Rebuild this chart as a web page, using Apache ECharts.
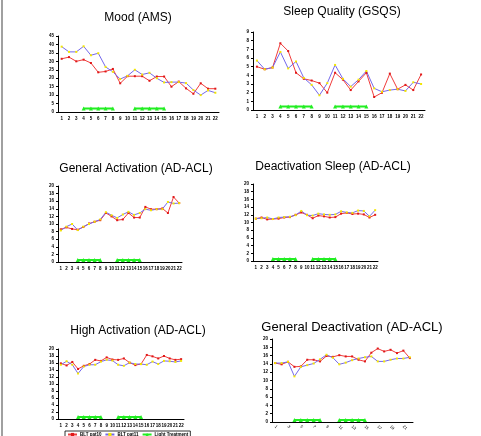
<!DOCTYPE html>
<html>
<head>
<meta charset="utf-8">
<script src="https://cdn.jsdelivr.net/npm/echarts@6/dist/echarts.min.js"></script>
<style>
  html, body { margin: 0; padding: 0; background: #fff; }
  #main { width: 481px; height: 436px; }
</style>
</head>
<body>
<div id="main"></div>
<script>
var days = ['1','2','3','4','5','6','7','8','9','10','11','12','13','14','15','16','17','18','19','20','21','22'];
var lightDays = [4, 5, 6, 7, 8, 11, 12, 13, 14, 15];

var moodPat10 = [31.5, 32.5, 30, 31, 29, 23.5, 24, 25.5, 17, 21.2, 21.2, 21.2, 18.5, 21, 21, 15, 18, 14, 10.8, 17, 13.8, 13.8];
var moodPat11 = [38.7, 35.6, 35.6, 38.9, 33.6, 34.8, 26.7, 23.8, 19.5, 21.4, 25, 22.2, 23.2, 20, 17.5, 17.7, 17.7, 17.1, 13, 10, 12.8, 11.4];

var sleepPat10 = [5, 4.7, 4.9, 7.7, 6.8, 4.3, 3.6, 3.4, 3.1, 2, 4.3, 3.5, 2.3, 3.3, 4.3, 1.5, 2, 4.2, 2.4, 2.9, 2.3, 4.1];
var sleepPat11 = [5.7, 4.7, 4.9, 6.7, 4.8, 5.6, 3.7, 2.9, 1.7, 3.1, 5.2, 3.6, 2.7, 3.5, 4.5, 2.5, 2.1, 2.3, 2.4, 2.2, 3.2, 3.0];

var genActPat10 = [8.6, 9.1, 8.7, 8.5, 9.2, 10.1, 10.6, 11, 12.9, 12, 11, 11.2, 12.9, 11.7, 11.7, 14.5, 13.9, 13.9, 14.1, 12.9, 17.1, 15.5];
var genActPat11 = [8.3, 9.3, 10, 8.4, 9.3, 10, 10.6, 11.2, 13.1, 12.3, 11.6, 12.5, 13.2, 12.4, 12.9, 13.9, 13.6, 13.9, 13.9, 15.8, 15.4, 15.5];

var deactSleepPat10 = [11, 11.3, 10.8, 10.9, 11, 11.3, 11.4, 12, 12.6, 12, 11.1, 11.8, 11.6, 11.3, 11.4, 12.3, 12.5, 12.2, 12.3, 12.1, 11.3, 12];
var deactSleepPat11 = [11, 11.1, 11.3, 10.9, 11.3, 11.4, 11.5, 11.9, 13, 11.9, 11.8, 12.3, 12.1, 12, 12.1, 12.9, 12.6, 12.5, 13.1, 13, 11.6, 13.2];

var highActPat10 = [15.9, 15.3, 16.3, 14.3, 15.2, 15.7, 16.9, 16.6, 17.6, 17, 16.9, 17.3, 16.1, 15.4, 15.7, 18.3, 17.9, 17.3, 18, 17.3, 16.9, 17.1];
var highActPat11 = [15.5, 16.5, 15.5, 13, 15, 15.5, 15.5, 16.4, 16.9, 16.7, 15.5, 15.2, 16.1, 15.7, 15.7, 15.5, 16.4, 15.7, 16.6, 16.5, 16.3, 16.6];

var genDeactPat10 = [14.2, 13.9, 14.5, 13.3, 13.4, 15, 15, 14.6, 15.9, 15.7, 16.1, 15.8, 15.8, 15, 14.6, 16.7, 17.7, 17, 17.4, 16.6, 17.2, 15.4];
var genDeactPat11 = [14.2, 14.2, 14.5, 11, 13.3, 13.7, 14.1, 15.1, 16.2, 15.5, 13.9, 14.3, 14.9, 15.3, 15.6, 15.8, 14.6, 14.6, 15, 15.3, 15.3, 15.6];

// level the light-treatment marks sit at in each panel
var lightLevels = [2, 0.4, 0.5, 0.5, 0.6, 0.5];

var titles = ['Mood (AMS)', 'Sleep Quality (GSQS)', 'General Activation (AD-ACL)',
              'Deactivation Sleep (AD-ACL)', 'High Activation (AD-ACL)', 'General Deactivation (AD-ACL)'];
var yMax = [45, 9, 20, 20, 20, 20];
var yStep = [5, 1, 2, 2, 2, 2];
var pat10 = [moodPat10, sleepPat10, genActPat10, deactSleepPat10, highActPat10, genDeactPat10];
var pat11 = [moodPat11, sleepPat11, genActPat11, deactSleepPat11, highActPat11, genDeactPat11];

// panel boxes: left, top, width, height
var boxes = [
  [58, 36, 161, 76],
  [253, 32, 172, 78],
  [58, 186, 124, 76],
  [253, 184, 125, 77],
  [58, 349, 126, 70],
  [272, 339, 141, 83]
];
var titlePos = [[133, 7], [337, 1], [131, 158], [328, 156], [133, 320], [347, 316]];
var titleSize = [12, 12, 12, 12, 12, 13];

function lightSeries(level) {
  return days.map(function (d) {
    return lightDays.indexOf(+d) >= 0 ? level : null;
  });
}

var grids = [], xAxes = [], yAxes = [], titleOpts = [], series = [];
for (var i = 0; i < 6; i++) {
  var b = boxes[i];
  grids.push({ left: b[0], top: b[1], width: b[2], height: b[3] });
  titleOpts.push({
    text: titles[i],
    left: titlePos[i][0], top: titlePos[i][1],
    textAlign: 'center',
    textStyle: { fontFamily: 'Liberation Sans', fontWeight: 'normal', fontSize: titleSize[i], color: '#000' }
  });
  xAxes.push({
    type: 'category', gridIndex: i, data: days, boundaryGap: true,
    axisLine: { lineStyle: { color: '#000', width: 1 } },
    axisTick: { length: 2, lineStyle: { color: '#000' } },
    axisLabel: i === 5 ? {
      interval: 1, rotate: -45, fontSize: 4, color: '#000', margin: 4, fontFamily: 'Liberation Sans'
    } : {
      interval: 0, fontSize: 4.5, color: '#000', margin: 4, fontFamily: 'Liberation Sans', fontWeight: 'bold'
    }
  });
  yAxes.push({
    type: 'value', gridIndex: i, min: 0, max: yMax[i], interval: yStep[i],
    splitLine: { show: false },
    axisLine: { show: true, lineStyle: { color: '#000', width: 1 } },
    axisTick: { show: true, length: 2, lineStyle: { color: '#000' } },
    axisLabel: { fontSize: 4.5, color: '#000', margin: 4, fontFamily: 'Liberation Sans', fontWeight: 'bold' }
  });
  series.push({
    name: 'BLT pat10', type: 'line', xAxisIndex: i, yAxisIndex: i, data: pat10[i],
    symbol: 'rect', symbolSize: 2, lineStyle: { color: '#f03c3c', width: 1 },
    itemStyle: { color: '#e01818' }, animation: false
  });
  series.push({
    name: 'BLT pat11', type: 'line', xAxisIndex: i, yAxisIndex: i, data: pat11[i],
    symbol: 'rect', symbolSize: 2, lineStyle: { color: '#7468ec', width: 1 },
    itemStyle: { color: '#f4e800' }, animation: false
  });
  series.push({
    name: 'Light Treatment', type: 'line', xAxisIndex: i, yAxisIndex: i, data: lightSeries(lightLevels[i]),
    symbol: 'triangle', symbolSize: 4, lineStyle: { color: '#22ee22', width: 2 },
    itemStyle: { color: '#22ee22' }, animation: false
  });
}

var chartDom = document.getElementById('main');
var myChart = echarts.init(chartDom);
var option = {
  backgroundColor: '#fff',
  animation: false,
  title: titleOpts,
  grid: grids,
  xAxis: xAxes,
  yAxis: yAxes,
  legend: {
    left: 65, top: 431, itemGap: 3, itemWidth: 9, itemHeight: 4,
    padding: [1, 2], borderColor: '#000', borderWidth: 0.8,
    textStyle: { fontSize: 4.5, fontWeight: 'bold', color: '#000', fontFamily: 'Liberation Sans', padding: [0, 0, 0, -2] },
    data: ['BLT pat10', 'BLT pat11', 'Light Treatment']
  },
  graphic: [{
    type: 'rect', shape: { x: 1, y: 0, width: 2, height: 436 },
    style: { fill: '#a0a0a0' }
  }],
  series: series
};
option && myChart.setOption(option);
</script>
</body>
</html>
